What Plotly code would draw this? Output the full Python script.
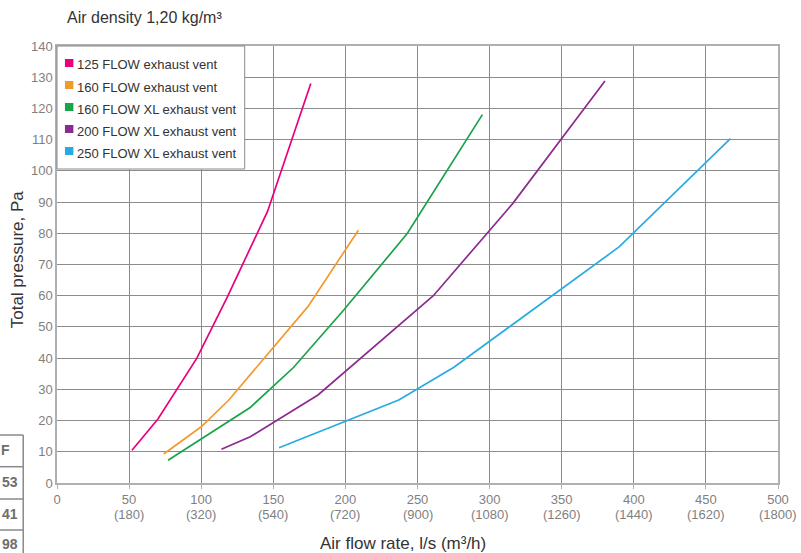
import plotly.graph_objects as go

# ---- data ----
series_names = [
    "125 FLOW exhaust vent",
    "160 FLOW exhaust vent",
    "160 FLOW XL exhaust vent",
    "200 FLOW XL exhaust vent",
    "250 FLOW XL exhaust vent",
]
series_colors = ["#e8007f", "#f29a2e", "#19a34a", "#8c2b8f", "#2aaae2"]

x125 = [52, 70, 97, 118, 146, 176]
y125 = [10.5, 20.5, 40, 59.5, 87, 128]
x160 = [74, 100, 119, 174, 209]
y160 = [9.3, 18, 26.5, 56.5, 81]
x160xl = [77, 134, 164, 199, 243, 295]
y160xl = [7.3, 24.2, 37, 55.5, 80, 118]
x200xl = [114, 134, 181, 261, 316, 380]
y200xl = [10.8, 14.8, 28.2, 60, 89.5, 128.8]
x250xl = [154, 237, 275, 390, 467]
y250xl = [11.3, 26.6, 37, 75.7, 110.3]

xs = [x125, x160, x160xl, x200xl, x250xl]
ys = [y125, y160, y160xl, y200xl, y250xl]

x_tickvals = [0, 50, 100, 150, 200, 250, 300, 350, 400, 450, 500]
x_tick_m3h = ["", "180", "320", "540", "720", "900", "1080", "1260", "1440", "1620", "1800"]
y_tickvals = list(range(0, 141, 10))

table_texts = ["F", "53", "41", "98"]

# ---- layout geometry ----
W, H = 801, 553
ML, MR, MT, MB = 57, 18, 46, 70
PW, PH = W - ML - MR, H - MT - MB
FONT = "Liberation Sans, Arial, Helvetica, sans-serif"
TICKCOL = "#7f7f7f"


def px(xp):
    return (xp - ML) / PW


def py(yp):
    return (H - MB - yp) / PH


fig = go.Figure()
for name, color, xv, yv in zip(series_names, series_colors, xs, ys):
    fig.add_trace(go.Scatter(
        x=xv, y=yv, mode="lines", name=name,
        line=dict(color=color, width=1.7),
        showlegend=False, hoverinfo="skip",
    ))

shapes = []
annotations = []

# second tick-label line: flow in m3/h, placed at the x-axis tick values
for v, m in zip(x_tickvals, x_tick_m3h):
    if m:
        annotations.append(dict(text=f"({m})", xref="x", yref="paper",
                                x=v, y=py(514), xanchor="center", yanchor="middle",
                                showarrow=False, borderpad=0,
                                font=dict(family=FONT, size=13, color=TICKCOL)))

# manual legend box
shapes.append(dict(type="rect", xref="paper", yref="paper",
                   x0=px(57), x1=px(246), y0=py(169), y1=py(46),
                   fillcolor="white", line=dict(color="#8a8a8a", width=1),
                   layer="above"))
for i, (name, color) in enumerate(zip(series_names, series_colors)):
    cy = 65 + 22 * i
    shapes.append(dict(type="rect", xref="paper", yref="paper",
                       x0=px(65), x1=px(73.5), y0=py(cy + 2), y1=py(cy - 6),
                       fillcolor=color, line=dict(width=0), layer="above"))
    annotations.append(dict(text=name, xref="paper", yref="paper",
                            x=px(75), y=py(cy), xanchor="left", yanchor="middle",
                            showarrow=False,
                            font=dict(family=FONT, size=13, color="#333333")))

# table fragment at bottom-left
tcol = "#8a8a8a"
for yl in [435, 466.7, 499, 530]:
    shapes.append(dict(type="line", xref="paper", yref="paper",
                       x0=px(-5), x1=px(23), y0=py(yl), y1=py(yl),
                       line=dict(color=tcol, width=1.5)))
shapes.append(dict(type="line", xref="paper", yref="paper",
                   x0=px(23), x1=px(23), y0=py(435), y1=py(560),
                   line=dict(color=tcol, width=1.5)))
for t, cy, xr in zip(table_texts, [450, 482, 514, 544], [11, 19, 19, 19]):
    annotations.append(dict(text=f"<b>{t}</b>", xref="paper", yref="paper",
                            x=px(xr), y=py(cy), xanchor="right", yanchor="middle",
                            showarrow=False, borderpad=0,
                            font=dict(family=FONT, size=14, color="#6e6e6e")))

# chart title
annotations.append(dict(text="Air density 1,20 kg/m³",
                        xref="paper", yref="paper", x=px(65), y=py(18),
                        xanchor="left", yanchor="middle", showarrow=False,
                        font=dict(family=FONT, size=16, color="#333333")))
# axis titles
annotations.append(dict(text="Air flow rate, l/s (m³/h)",
                        xref="paper", yref="paper", x=px(405), y=py(543),
                        xanchor="center", yanchor="middle", showarrow=False,
                        font=dict(family=FONT, size=17, color="#333333")))
annotations.append(dict(text="Total pressure, Pa",
                        xref="paper", yref="paper", x=px(17), y=py(259),
                        xanchor="center", yanchor="middle", showarrow=False,
                        textangle=-90,
                        font=dict(family=FONT, size=17, color="#333333")))

fig.update_layout(
    width=W, height=H,
    margin=dict(l=ML, r=MR, t=MT, b=MB, pad=0),
    paper_bgcolor="white", plot_bgcolor="white",
    font=dict(family=FONT, size=13, color=TICKCOL),
    showlegend=False,
    shapes=shapes, annotations=annotations,
    xaxis=dict(
        range=[0, 500], tickvals=x_tickvals,
        ticktext=[str(v) for v in x_tickvals],
        showgrid=True, gridcolor="#8c8c8c", gridwidth=1,
        showline=True, linecolor="#b0b0b0", linewidth=1.5, mirror=True,
        ticks="outside", ticklen=4, tickcolor="#b0b0b0",
        ticklabeloverflow="allow",
        zeroline=False, fixedrange=True,
        tickfont=dict(family=FONT, size=13, color=TICKCOL),
    ),
    yaxis=dict(
        range=[0, 140], tickvals=y_tickvals,
        showgrid=True, gridcolor="#8c8c8c", gridwidth=1,
        showline=True, linecolor="#b0b0b0", linewidth=1.5, mirror=True,
        ticks="", zeroline=False, fixedrange=True,
        tickfont=dict(family=FONT, size=13, color=TICKCOL),
    ),
)

fig.write_html(
    "out.html",
    config={"displayModeBar": False},
    post_script="document.body.style.margin='0';document.body.style.overflow='hidden';",
)
